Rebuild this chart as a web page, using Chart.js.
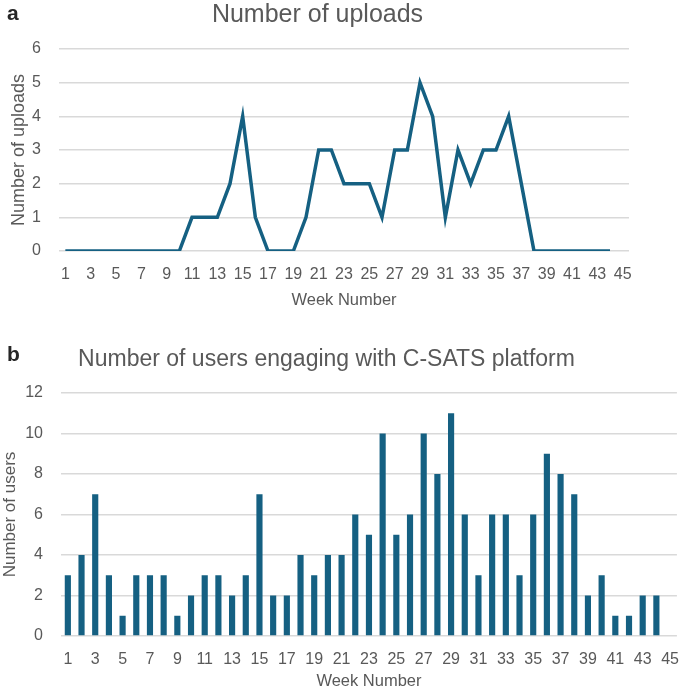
<!DOCTYPE html>
<html>
<head>
<meta charset="utf-8">
<script src="https://cdn.jsdelivr.net/npm/chart.js@4.4.1/dist/chart.umd.min.js"></script>
<style>
  html, body { margin: 0; padding: 0; background: #fff; }
  body { width: 685px; height: 691px; position: relative; overflow: hidden;
         font-family: "Liberation Sans Narrow", "Liberation Sans", Arial, sans-serif; }
  .panel { position: absolute; left: 0; width: 685px; }
  .letter { position: absolute; left: 7px; font-weight: bold; font-size: 21px; color: #262626;
            font-family: "Liberation Sans", Arial, sans-serif; }
  .title { position: absolute; width: 685px; text-align: center; color: #595959; white-space: nowrap; }
</style>
</head>
<body>
<div class="panel" style="top:0;height:310px"><canvas id="uploads"></canvas></div>
<div class="panel" style="top:325px;height:366px"><canvas id="users"></canvas></div>
<div class="letter" style="top:1px">a</div>
<div class="title" style="top:-1px;left:-25px;font-size:25px">Number of uploads</div>
<div class="letter" style="top:342px">b</div>
<div class="title" style="top:345px;left:-16px;font-size:23px">Number of users engaging with C-SATS platform</div>
<script>
// week categories 1..45 (data runs to week 44)
const weeks = Array.from({ length: 45 }, (_, i) => String(i + 1));

const uploads = [0, 0, 0, 0, 0, 0, 0, 0, 0, 0,
                 1, 1, 1, 2, 4, 1, 0, 0, 0, 1,
                 3, 3, 2, 2, 2, 1, 3, 3, 5, 4,
                 1, 3, 2, 3, 3, 4, 2, 0, 0, 0,
                 0, 0, 0, 0];

const users = [3, 4, 7, 3, 1, 3, 3, 3, 1, 2,
               3, 3, 2, 3, 7, 2, 2, 4, 3, 4,
               4, 6, 5, 10, 5, 6, 10, 8, 11, 6,
               3, 6, 6, 3, 6, 9, 8, 7, 2, 3,
               1, 1, 2, 2];

const uploadTicks = [0, 1, 2, 3, 4, 5, 6];
const userTicks = [0, 2, 4, 6, 8, 10, 12];

const mainColor = '#156082';
const textColor = '#595959';
const gridColor = '#d9d9d9';
const fontFamily = '"Liberation Sans Narrow", "Liberation Sans", Arial, sans-serif';

Chart.defaults.font.family = fontFamily;
Chart.defaults.color = textColor;

function makeScales(tickValues, yTitle, opts) {
    return {
        x: {
            offset: true,
            grid: { display: false },
            border: { display: false },
            ticks: {
                autoSkip: false,
                maxRotation: 0,
                font: { size: 16 },
                color: textColor,
                padding: 6,
                callback: (val, i) => (i % 2 === 0 ? weeks[i] : '')
            },
            title: { display: true, text: 'Week Number', font: { size: 16.5 }, color: textColor,
                     padding: { top: opts.xTitleGap, bottom: 0 } },
            afterFit: s => { s.height = opts.xHeight; }
        },
        y: {
            min: tickValues[0],
            max: tickValues[tickValues.length - 1],
            afterBuildTicks: s => { s.ticks = tickValues.map(v => ({ value: v })); },
            grid: { color: gridColor, lineWidth: 1.5, drawTicks: false },
            border: { display: false },
            ticks: { font: { size: 16 }, color: textColor, padding: 18 },
            title: { display: true, text: yTitle, font: { size: opts.yTitleSize }, color: textColor,
                     padding: { top: opts.yTitleGap, bottom: 0 } },
            afterFit: s => { s.width = opts.yWidth; }
        }
    };
}

new Chart(document.getElementById('uploads'), {
    type: 'line',
    data: {
        labels: weeks,
        datasets: [{
            data: uploads,
            borderColor: mainColor,
            borderWidth: 3.5,
            pointRadius: 0,
            tension: 0,
            fill: false
        }]
    },
    options: {
        responsive: true,
        maintainAspectRatio: false,
        animation: false,
        layout: { padding: { top: 49, right: 56, bottom: 0, left: 0 } },
        plugins: { legend: { display: false }, tooltip: { enabled: false } },
        scales: makeScales(uploadTicks, 'Number of uploads',
                           { yWidth: 59, xHeight: 59, yTitleSize: 18, yTitleGap: 8, xTitleGap: 2 })
    }
});

new Chart(document.getElementById('users'), {
    type: 'bar',
    data: {
        labels: weeks,
        datasets: [{
            data: users,
            backgroundColor: mainColor,
            borderWidth: 0,
            barPercentage: 0.45,
            categoryPercentage: 1
        }]
    },
    options: {
        responsive: true,
        maintainAspectRatio: false,
        animation: false,
        layout: { padding: { top: 68, right: 3, bottom: 0, left: 0 } },
        plugins: { legend: { display: false }, tooltip: { enabled: false } },
        scales: makeScales(userTicks, 'Number of users',
                           { yWidth: 61, xHeight: 55, yTitleSize: 17, yTitleGap: 0, xTitleGap: 5 })
    }
});
</script>
</body>
</html>
